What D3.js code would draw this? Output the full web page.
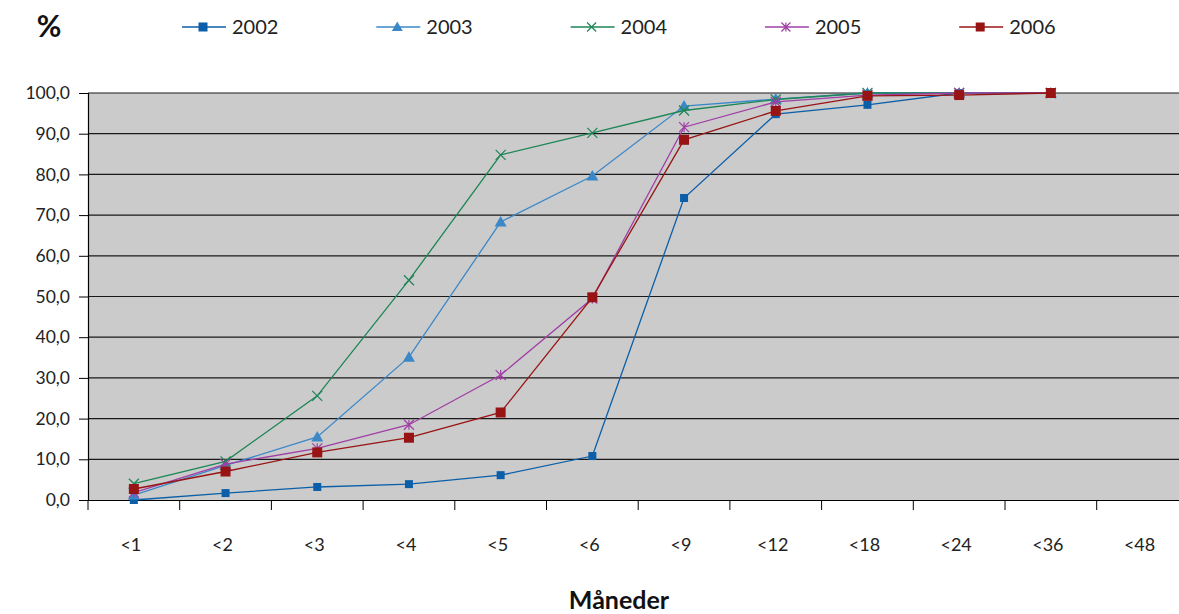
<!DOCTYPE html>
<html>
<head>
<meta charset="utf-8">
<script src="https://cdn.jsdelivr.net/npm/d3@7"></script>
<style>
  body { margin: 0; background: #fff; }
  svg { display: block; font-family: Lato, "Open Sans", sans-serif; }
</style>
</head>
<body>
<div id="chart"></div>
<script>
const categories = ['<1', '<2', '<3', '<4', '<5', '<6', '<9', '<12', '<18', '<24', '<36', '<48']
const years = ['2002', '2003', '2004', '2005', '2006']
const v2002 = [0.0, 1.7, 3.2, 3.9, 6.1, 10.8, 74.2, 94.8, 97.1, 100.0, 100.0]
const v2003 = [1.2, 8.5, 15.5, 35.1, 68.3, 79.6, 96.8, 98.5, 100.0, 100.0, 100.0]
const v2004 = [4.0, 9.5, 25.6, 54.0, 84.8, 90.2, 95.7, 98.4, 100.0, 100.0, 100.0]
const v2005 = [1.8, 8.8, 12.7, 18.5, 30.7, 49.5, 91.6, 97.8, 99.5, 100.0, 100.0]
const v2006 = [2.7, 7.0, 11.7, 15.3, 21.5, 49.8, 88.5, 95.6, 99.3, 99.5, 100.0]
const yTicks = [0, 10, 20, 30, 40, 50, 60, 70, 80, 90, 100]

const seriesValues = [v2002, v2003, v2004, v2005, v2006]
const colors = ['#0b5fa8', '#3b88c9', '#1d8656', '#a03fa6', '#981414']
const symbols = ['square', 'triangle', 'x', 'star', 'square']

let width = 1179
let height = 614
let plotLeft = 88, plotTop = 93, plotBottom = 500
let bandW = 91.7

let xScale = d3.scaleBand()
  .domain(categories)
  .range([plotLeft, plotLeft + bandW * categories.length])
let yScale = d3.scaleLinear()
  .domain([0, 100])
  .range([plotBottom, plotTop])

let svg = d3.select('#chart')
  .append('svg')
  .attr('width', width)
  .attr('height', height)

// plot background
svg.append('rect')
  .attr('x', plotLeft)
  .attr('y', plotTop)
  .attr('width', bandW * categories.length)
  .attr('height', plotBottom - plotTop)
  .attr('fill', '#cbcbcb')

// grid lines
svg.append('g')
  .selectAll('line')
  .data(yTicks.slice(1))
  .join('line')
  .attr('x1', plotLeft)
  .attr('x2', plotLeft + bandW * categories.length)
  .attr('y1', d => yScale(d))
  .attr('y2', d => yScale(d))
  .attr('stroke', '#1a1a1a')
  .attr('stroke-width', 1.2)

// y axis
let yAxis = svg.append('g')
  .attr('transform', 'translate(' + plotLeft + ', 0)')
  .call(d3.axisLeft(yScale).tickValues(yTicks).tickSize(9).tickPadding(9)
    .tickFormat(d => d3.format('.1f')(d).replace('.', ',')))
yAxis.select('.domain').attr('stroke', '#000').attr('stroke-width', 1.2)
yAxis.selectAll('.tick line').attr('stroke', '#000')
yAxis.selectAll('text').attr('font-size', 17.5).attr('fill', '#222')
  .attr('font-family', 'Lato, sans-serif')

// x axis
let xAxis = svg.append('g')
  .attr('transform', 'translate(0, ' + plotBottom + ')')
  .call(d3.axisBottom(xScale).tickSize(0).tickPadding(38))
xAxis.select('.domain').attr('stroke', '#000').attr('stroke-width', 1.2)
xAxis.selectAll('text').attr('font-size', 18).attr('fill', '#222')
  .attr('font-family', 'Lato, sans-serif')
  .attr('dx', -3)
// tick marks between categories
xAxis.selectAll('.sep')
  .data(d3.range(categories.length + 1))
  .join('line')
  .attr('class', 'sep')
  .attr('x1', i => plotLeft + i * bandW)
  .attr('x2', i => plotLeft + i * bandW)
  .attr('y1', 0)
  .attr('y2', 10)
  .attr('stroke', '#000')

function drawMarker(g, type, color, size) {
  let s = size
  if (type === 'square') {
    g.append('rect').attr('x', -s / 2).attr('y', -s / 2).attr('width', s).attr('height', s).attr('fill', color)
  } else if (type === 'triangle') {
    g.append('path').attr('d', `M0,${-s * 0.6}L${s * 0.6},${s * 0.45}L${-s * 0.6},${s * 0.45}Z`).attr('fill', color)
  } else if (type === 'x') {
    g.append('path').attr('d', `M${-s / 2},${-s / 2}L${s / 2},${s / 2}M${-s / 2},${s / 2}L${s / 2},${-s / 2}`)
      .attr('stroke', color).attr('stroke-width', 1.2)
  } else if (type === 'star') {
    g.append('path').attr('d', `M${-s / 2},${-s / 2}L${s / 2},${s / 2}M${-s / 2},${s / 2}L${s / 2},${-s / 2}M0,${-s / 2}L0,${s / 2}`)
      .attr('stroke', color).attr('stroke-width', 1.2)
  }
}

let line = d3.line()
  .x((d, i) => xScale(categories[i]) + xScale.bandwidth() / 2)
  .y(d => yScale(d))

seriesValues.forEach((vals, k) => {
  let g = svg.append('g')
  g.append('path')
    .datum(vals)
    .attr('d', line)
    .attr('fill', 'none')
    .attr('stroke', colors[k])
    .attr('stroke-width', 1.3)
  vals.forEach((v, i) => {
    let m = g.append('g')
      .attr('transform', 'translate(' + (xScale(categories[i]) + xScale.bandwidth() / 2) + ',' + yScale(v) + ')')
    drawMarker(m, symbols[k], colors[k], k === 0 ? 8 : 10)
  })
})

// legend
let legend = svg.append('g')
years.forEach((y, k) => {
  let x0 = 182 + k * 194.3
  let lg = legend.append('g').attr('transform', 'translate(' + x0 + ', 27)')
  lg.append('line').attr('x1', 0).attr('x2', 44).attr('y1', 0).attr('y2', 0)
    .attr('stroke', colors[k]).attr('stroke-width', 1.3)
  drawMarker(lg.append('g').attr('transform', 'translate(21, 0)'), symbols[k], colors[k], 9)
  lg.append('text').attr('x', 50).attr('y', 7).attr('font-size', 20).attr('fill', '#222').text(y)
})

// axis titles
svg.append('text').attr('x', 49).attr('y', 37).attr('text-anchor', 'middle')
  .attr('font-size', 30).attr('font-weight', 'bold').attr('fill', '#111').text('%')
svg.append('text').attr('x', 619).attr('y', 609).attr('text-anchor', 'middle')
  .attr('font-size', 25).attr('font-weight', 'bold').attr('fill', '#111').text('Måneder')
</script>
</body>
</html>
